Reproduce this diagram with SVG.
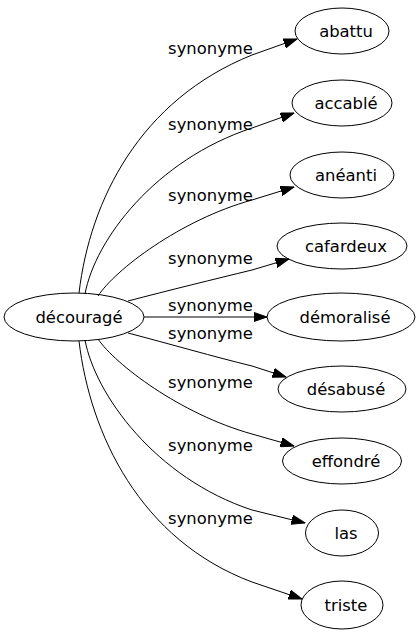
<svg xmlns="http://www.w3.org/2000/svg" width="420" height="635" viewBox="0 0 420 635">
<style>
.n ellipse{fill:none;stroke:#000;stroke-width:1}
text{font-family:"DejaVu Sans",sans-serif;font-size:16.4px;fill:#000;text-anchor:middle}
.e path{fill:none;stroke:#000;stroke-width:1;marker-end:url(#ah)}
</style>
<defs>
<marker id="ah" markerUnits="userSpaceOnUse" markerWidth="14" markerHeight="10" viewBox="0 0 14 10" refX="13.5" refY="5" orient="auto">
<path d="M0,0.3 L13.5,5 L0,9.7 z" fill="#000" stroke="#000" stroke-width="1"/>
</marker>
</defs>
<rect width="420" height="635" fill="#fff"/>
<g id="edges" class="e">
<path d="M79,293 C90,200 140,100 252,55 L297,39"/>
<path d="M85,294 C95,240 155,160 252,128 L294,113"/>
<path d="M98,296 C115,270 180,220 252,200 L294,187"/>
<path d="M128,301 C170,290 215,279 252,270 L289,259"/>
<path d="M144,317 L267,317"/>
<path d="M128,333 C170,344 215,357 252,366 L286,377"/>
<path d="M98,339 C115,364 180,414 252,434 L294,446"/>
<path d="M85,340 C95,394 155,478 252,510 L305,523"/>
<path d="M79,341 C90,434 140,540 252,582 L302,599"/>
</g>
<g id="edge-labels">
<text x="210.5" y="54">synonyme</text>
<text x="210.5" y="130">synonyme</text>
<text x="210.5" y="201">synonyme</text>
<text x="210.5" y="264">synonyme</text>
<text x="210.5" y="311">synonyme</text>
<text x="210.5" y="339">synonyme</text>
<text x="210.5" y="388">synonyme</text>
<text x="210.5" y="451">synonyme</text>
<text x="210.5" y="524">synonyme</text>
</g>
<g id="n-decourage" class="n"><ellipse cx="74" cy="317" rx="70" ry="24"/><text x="79" y="323">découragé</text></g>
<g id="n-abattu" class="n"><ellipse cx="342" cy="31" rx="47" ry="23"/><text x="346" y="37">abattu</text></g>
<g id="n-accable" class="n"><ellipse cx="342" cy="103" rx="50" ry="23"/><text x="346" y="109">accablé</text></g>
<g id="n-aneanti" class="n"><ellipse cx="342" cy="175" rx="52" ry="23"/><text x="346" y="181">anéanti</text></g>
<g id="n-cafardeux" class="n"><ellipse cx="342" cy="246" rx="65" ry="23"/><text x="346" y="252">cafardeux</text></g>
<g id="n-demoralise" class="n"><ellipse cx="341" cy="317" rx="74" ry="24"/><text x="345" y="323">démoralisé</text></g>
<g id="n-desabuse" class="n"><ellipse cx="342" cy="389" rx="64" ry="23"/><text x="346" y="395">désabusé</text></g>
<g id="n-effondre" class="n"><ellipse cx="342" cy="461" rx="59.5" ry="23"/><text x="346" y="467">effondré</text></g>
<g id="n-las" class="n"><ellipse cx="342" cy="533" rx="36.5" ry="23"/><text x="346" y="539">las</text></g>
<g id="n-triste" class="n"><ellipse cx="342" cy="605" rx="41" ry="24"/><text x="346" y="611">triste</text></g>
</svg>
